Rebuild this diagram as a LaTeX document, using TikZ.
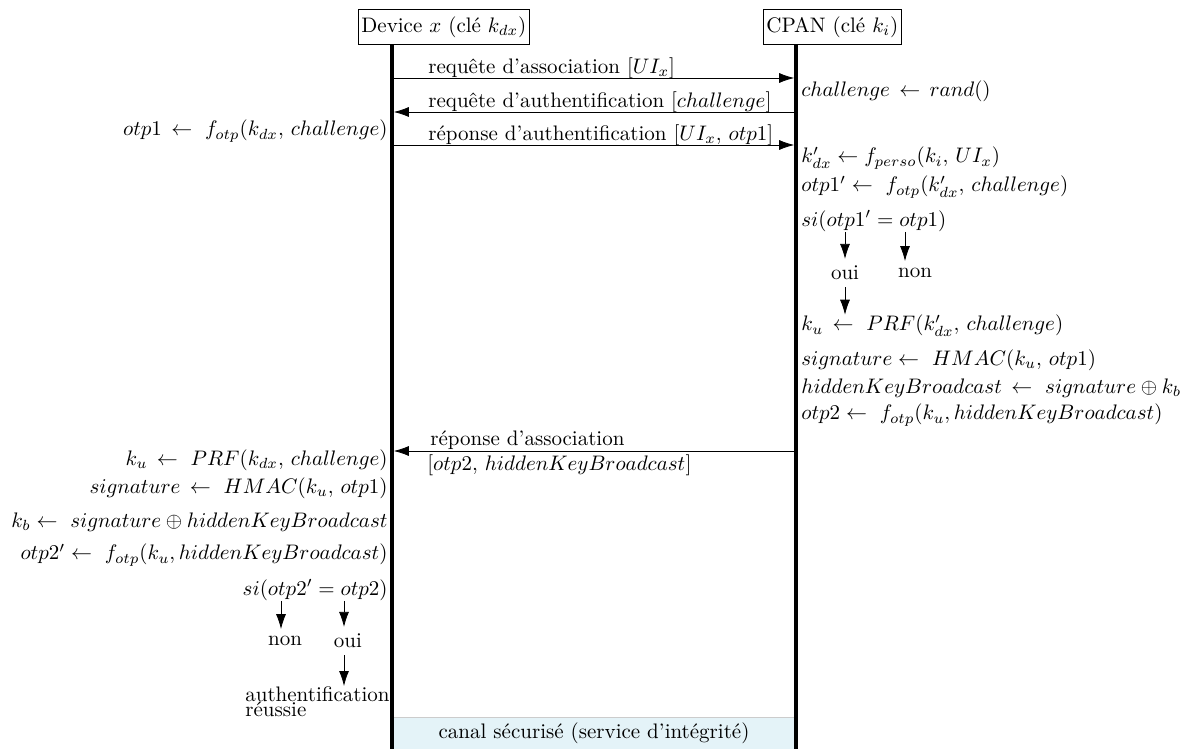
\RequirePackage{fix-cm}
\documentclass[tikz,border=0pt]{standalone}
\usepackage{amsmath}
\usepackage{amssymb}
\usetikzlibrary{arrows.meta}
\definecolor{canalblue}{RGB}{228,243,248}
\tikzset{
  every node/.style={font=\fontsize{10.5}{12.6}\selectfont},
  entity/.style={draw,anchor=west,inner xsep=1.5pt,inner ysep=3.3pt},
  lifeline/.style={line width=1.8pt},
  msg/.style={-{Latex[length=7.5pt,width=5pt]}},
  lbl/.style={anchor=west,inner sep=0pt},
  calcR/.style={anchor=west,inner sep=0pt},
  calcL/.style={anchor=east,inner sep=0pt},
}
\begin{document}
\begin{tikzpicture}[x=0.5pt,y=-0.5pt]
\useasboundingbox (0,0) rectangle (1189,749);

% entites
\node[entity] (dev) at (358,27) {Device $x$ (clé $k_{dx}$)};
\node[entity] (cpan) at (763,27) {CPAN (clé $k_i$)};
\coordinate (devend) at (392,749);
\coordinate (cpanend) at (796,749);

% canal securise
\node[draw=gray!40,fill=canalblue,minimum width=202pt,minimum height=16pt,inner sep=0pt] (canal) at (594,733) {canal sécurisé (service d'intégrité)};

\draw[lifeline] (devend |- dev.south) -- (devend);
\draw[lifeline] (cpanend |- cpan.south) -- (cpanend);

% messages
\foreach \n/\y in {1/78,2/112,3/145,4/451} {
  \coordinate (d\n) at (392,\y);
  \coordinate (c\n) at (796,\y);
}
\draw[msg,shorten >=0.9pt] (d1) -- (c1);
\draw[msg,shorten >=0.9pt] (c2) -- (d2);
\draw[msg,shorten >=0.9pt] (d3) -- (c3);
\draw[msg,shorten >=0.9pt] (c4) -- (d4);
\node[lbl] (m1) at (428,68) {requête d'association $[UI_x]$};
\node[lbl] (m2) at (428,102) {requête d'authentification $[challenge]$};
\node[lbl] (m3) at (428,135) {réponse d'authentification $[UI_x,\, otp1]$};
\node[lbl] (m4a) at (430,440) {réponse d'association};
\node[lbl] (m4b) at (427,465) {$[otp2,\, hiddenKeyBroadcast]$};

% cote CPAN
\node[calcR] (r0) at (801,91) {$challenge\,\leftarrow\, rand()$};
\node[calcR] (r1) at (801,158) {$k'_{dx} \leftarrow f_{perso}(k_i,\, UI_x)$};
\node[calcR] (r2) at (801,187) {$otp1' \leftarrow\ f_{otp}(k'_{dx},\, challenge)$};
\node[calcR] (r3) at (801,221) {$si(otp1' = otp1)$};
\node (oui1) at (845,273) {oui};
\node (non1) at (915,273) {non};
\node[calcR] (r4) at (801,326) {$k_u\,\leftarrow\ PRF(k'_{dx},\, challenge)$};
\node[calcR] (r5) at (801,360) {$signature \leftarrow\ HMAC(k_u,\, otp1)$};
\node[calcR] (r6) at (801,388) {$hiddenKeyBroadcast\,\leftarrow\ signature \oplus k_b$};
\node[calcR] (r7) at (801,415) {$otp2 \leftarrow\ f_{otp}(k_u, hiddenKeyBroadcast)$};
\draw[msg] (r3.south -| oui1) -- (oui1);
\draw[msg] ([xshift=-5pt]r3.south -| non1) -- ([xshift=-5pt]non1.north);
\draw[msg] (oui1) -- (oui1 |- r4.north);

% cote device
\node[calcL] (l0) at (388,131) {$otp1\,\leftarrow\ f_{otp}(k_{dx},\, challenge)$};
\node[calcL] (l1) at (388,460) {$k_u\,\leftarrow\ PRF(k_{dx},\, challenge)$};
\node[calcL] (l2) at (388,488) {$signature\,\leftarrow\ HMAC(k_u,\, otp1)$};
\node[calcL] (l3) at (388,522) {$k_b \leftarrow\ signature \oplus hiddenKeyBroadcast$};
\node[calcL] (l4) at (388,555) {$otp2' \leftarrow\ f_{otp}(k_u, hiddenKeyBroadcast)$};
\node[calcL] (l5) at (388,590) {$si(otp2' = otp2)$};
\node (non2) at (285,641) {non};
\node (oui2) at (348,641) {oui};
\node[align=left,inner sep=0pt,anchor=north west] (auth) at (245,686) {authentification\\[-5pt]réussie};
\draw[msg] ([xshift=-2pt]l5.south -| non2) -- ([xshift=-2pt]non2.north);
\draw[msg] ([xshift=-2pt]l5.south -| oui2) -- ([xshift=-2pt]oui2.north);
\draw[msg] ([xshift=-2pt]oui2.south) -- ([xshift=-2pt]oui2.south |- auth.north);
\end{tikzpicture}
\end{document}
